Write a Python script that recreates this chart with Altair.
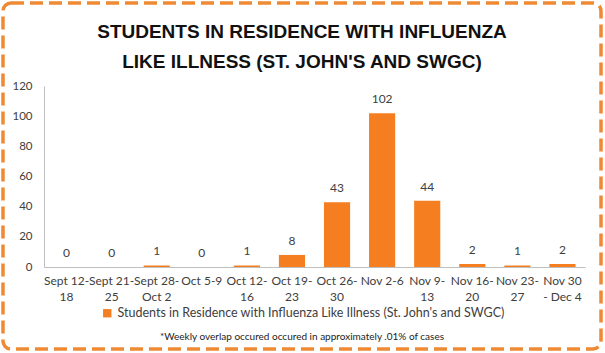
import altair as alt
import pandas as pd

categories = ["Sept 12-\n18", "Sept 21-\n25", "Sept 28-\nOct 2", "Oct 5-9", "Oct 12-\n16",
              "Oct 19-\n23", "Oct 26-\n30", "Nov 2-6", "Nov 9-\n13", "Nov 16-\n20",
              "Nov 23-\n27", "Nov 30\n- Dec 4"]
values = [0, 0, 1, 0, 1, 8, 43, 102, 44, 2, 1, 2]
series_name = "Students in Residence with Influenza Like Illness (St. John's and SWGC)"
title_text = "STUDENTS IN RESIDENCE WITH INFLUENZA\nLIKE ILLNESS (ST. JOHN'S AND SWGC)"
footnote = "*Weekly overlap occured occured in approximately .01% of cases"
y_ticks = [0, 20, 40, 60, 80, 100, 120]

ORANGE = "#F47E20"
GREY = "#404040"
FONT = "Lato"

df = pd.DataFrame({"week": categories, "cases": values, "series": series_name})

x = alt.X("week:N", sort=categories, title=None,
          scale=alt.Scale(paddingInner=0.42, paddingOuter=0.21),
          axis=alt.Axis(labelAngle=0, labelExpr="split(datum.label, '\\n')",
                        labelFontSize=12, labelColor=GREY, labelFont=FONT,
                        labelLineHeight=16, labelPadding=8, ticks=False,
                        labelOverlap=False, domainColor="#BFBFBF", labelLimit=200))
y = alt.Y("cases:Q", title=None,
          scale=alt.Scale(domain=[0, 120], nice=False),
          axis=alt.Axis(values=y_ticks, grid=False, ticks=False, labelFontSize=11.5,
                        labelColor=GREY, labelFont=FONT, labelPadding=12,
                        labelOverlap=False, domainColor="#BFBFBF"))

bars = alt.Chart(df).mark_bar(color=ORANGE).encode(
    x=x, y=y,
    color=alt.Color("series:N", scale=alt.Scale(range=[ORANGE]),
                    legend=alt.Legend(title=None, orient="none", legendX=57, legendY=221,
                                      symbolType="square", symbolSize=70,
                                      labelFontSize=12.5, labelColor=GREY, labelFont=FONT,
                                      labelLimit=500, symbolStrokeWidth=0))
)

labels = alt.Chart(df).mark_text(dy=-7, baseline="bottom", fontSize=12,
                                 color=GREY, font=FONT).encode(
    x=x, y=y, text="cases:Q")

title = alt.Chart(pd.DataFrame({"t": [title_text]})).mark_text(
    lineBreak="\n", lineHeight=30, fontSize=19, fontWeight="bold",
    font="Liberation Sans", color="#111111", align="center", baseline="alphabetic"
).encode(x=alt.value(258), y=alt.value(-48), text="t:N")

foot = alt.Chart(pd.DataFrame({"t": [footnote]})).mark_text(
    fontSize=10, font=FONT, color="#222222", align="center", baseline="middle"
).encode(x=alt.value(258), y=alt.value(251), text="t:N")

border = alt.Chart(pd.DataFrame({"a": [0]})).mark_rect(
    fill=None, stroke="#EE8A34", strokeWidth=3.5, strokeDash=[13, 6], cornerRadius=8
).encode(x=alt.value(-41), x2=alt.value(557), y=alt.value(-83), y2=alt.value(263))

chart = alt.layer(border, bars, labels, title, foot).properties(
    width=541, height=181,
    autosize=alt.AutoSizeParams(type="none"),
    padding={"left": 44, "top": 86, "right": 20, "bottom": 86},
    background="white"
).configure_view(stroke=None)

chart.save("out.html", embed_options={"renderer": "svg", "actions": False})
